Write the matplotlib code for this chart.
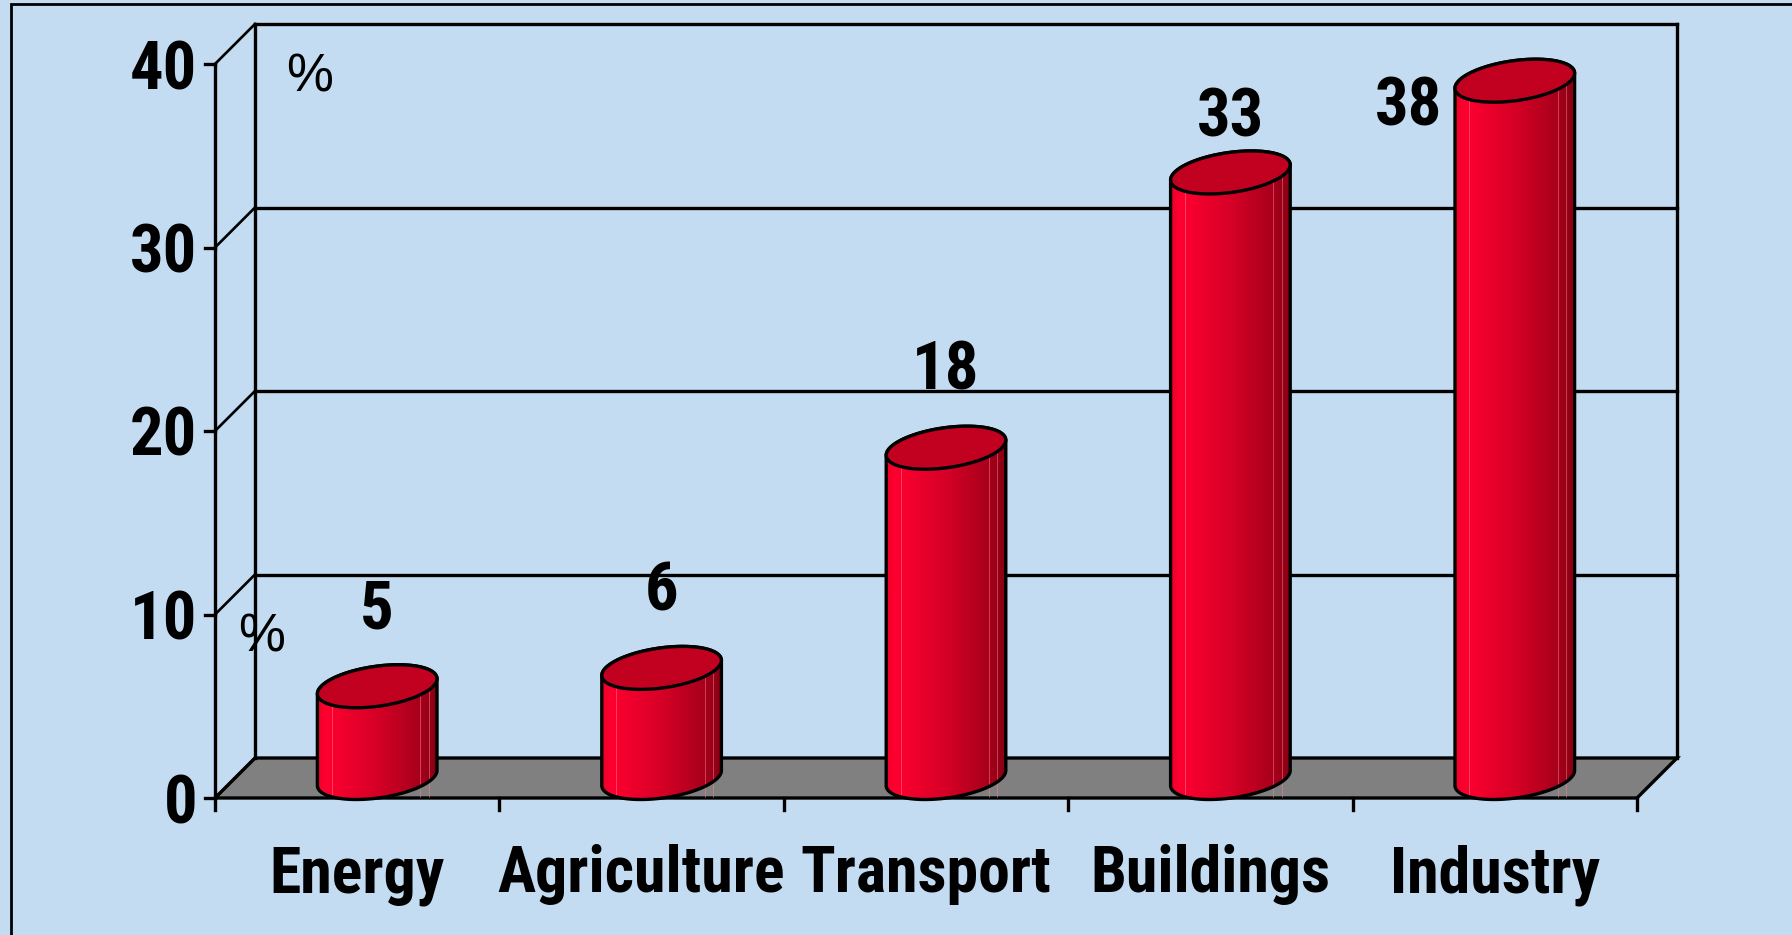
import numpy as np
import matplotlib
matplotlib.use("Agg")
import matplotlib.pyplot as plt
from matplotlib import font_manager
from matplotlib.patches import Polygon, Rectangle
from matplotlib.colors import LinearSegmentedColormap


categories = ["Energy", "Agriculture", "Transport", "Buildings", "Industry"]
shares = [5, 6, 18, 33, 38]
y_ticks = [0, 10, 20, 30, 40]

W, H = 1792, 935
BG = "#C4DCF1"
FLOOR = "#808080"
TOP_RED = "#C20020"

# pixels per data unit (front plane)
PX_X = 1422 / 5
PX_Y = 734 / 40
DDX = 40 / PX_X      # depth offset of the back wall
DDY = 40 / PX_Y


def pick_font(names, fallback):
    for name in names:
        try:
            font_manager.findfont(font_manager.FontProperties(family=name, weight="bold"),
                                  fallback_to_default=False)
            return name
        except Exception:
            pass
    return fallback


narrow = pick_font(["Liberation Sans Narrow", "Arial Narrow", "Roboto Condensed",
                    "Archivo Narrow", "Open Sans Condensed", "IBM Plex Sans Condensed"], "DejaVu Sans")
regular = pick_font(["Liberation Sans", "Arial"], "DejaVu Sans")

fig = plt.figure(figsize=(W / 100, H / 100), dpi=100, facecolor=BG)
ax = fig.add_axes([215 / W, (H - 798) / H, 1422 / W, 734 / H])
ax.set_facecolor(BG)
ax.axis("off")

# outer frame (only top and left edges are inside the picture)
fig.add_artist(Rectangle((11 / W, -0.1), 1.2, (H - 4) / H + 0.1, transform=fig.transFigure,
                         fill=False, edgecolor="black", lw=2))

lw = 2.4
n = len(categories)
big = dict(fontsize=48, fontweight="bold", family=narrow, zorder=5)
cat_font = dict(big, fontsize=46)

# floor
floor = Polygon([(0, 0), (n, 0), (n + DDX, DDY), (DDX, DDY)], closed=True,
                facecolor=FLOOR, edgecolor="black", lw=lw, zorder=1, clip_on=False)
ax.add_patch(floor)

# back wall gridlines and side wall diagonals
for v in y_ticks:
    if v > 0:
        ax.plot([DDX, n + DDX], [v + DDY, v + DDY], color="black", lw=lw, zorder=1, clip_on=False)
    ax.plot([0, DDX], [v, v + DDY], color="black", lw=lw * 0.8, zorder=1, clip_on=False)
    ax.plot([-10 / PX_X, 0], [v, v], color="black", lw=lw, zorder=1, clip_on=False)
    ax.text(-18 / PX_X, v, str(v), ha="right", va="center_baseline", **big)
ax.plot([DDX, DDX], [DDY, y_ticks[-1] + DDY], color="black", lw=lw, zorder=1, clip_on=False)
ax.plot([n + DDX, n + DDX], [DDY, y_ticks[-1] + DDY], color="black", lw=lw, zorder=1, clip_on=False)
ax.plot([0, 0], [0, y_ticks[-1]], color="black", lw=lw, zorder=1, clip_on=False)

# category ticks
for i in range(n + 1):
    ax.plot([i, i], [0, -12 / PX_Y], color="black", lw=lw, zorder=1, clip_on=False)

# cylinder gradient
body_cmap = LinearSegmentedColormap.from_list(
    "cyl", [(0, "#EE0029"), (0.08, "#FF0030"), (0.5, "#D60026"), (0.85, "#A8001C"), (1, "#880012")])
grad = np.linspace(0, 1, 256).reshape(1, -1)

a = 56.0 / PX_X
ex = 21 / PX_X
ey = 21.5 / PX_Y
t_r = np.arctan2(ex, a)
t_l = np.pi + t_r


def ell(cx, cy, t):
    return cx + a * np.cos(t) + ex * np.sin(t), cy + ey * np.sin(t)


for i, v in enumerate(shares):
    cx = i + 0.5 + DDX / 2
    cb = DDY / 2
    ct = v + DDY / 2
    tb = np.linspace(t_l, 2 * np.pi + t_r, 80)
    tt = np.linspace(t_r, t_l, 80)
    xb, yb = ell(cx, cb, tb)
    xt, yt = ell(cx, ct, tt)
    pts = np.column_stack([np.concatenate([xb, xt]), np.concatenate([yb, yt])])
    body = Polygon(pts, closed=True, facecolor="none", edgecolor="black", lw=lw, zorder=3, clip_on=False)
    ax.add_patch(body)
    half = np.sqrt(a ** 2 + ex ** 2)
    im = ax.imshow(grad, cmap=body_cmap, aspect="auto", zorder=2,
                   extent=[cx - half, cx + half, cb - 2 * ey, ct + 2 * ey])
    im.set_clip_path(body)
    for f in (0.12, 0.86, 0.93):
        xf = cx - half + 2 * half * f
        ax.plot([xf, xf], [cb - ey * 0.9, ct], color="#FF8090", lw=0.7, alpha=0.5, zorder=2)

    ta = np.linspace(0, 2 * np.pi, 160)
    xe, ye = ell(cx, ct, ta)
    top = Polygon(np.column_stack([xe, ye]), closed=True, facecolor=TOP_RED,
                  edgecolor="black", lw=lw, zorder=4, clip_on=False)
    ax.add_patch(top)

    # value label
    if i == n - 1:
        ax.text(cx - half - 13 / PX_X, v, str(v), ha="right", va="center_baseline", **big)
    else:
        ax.text(cx, min(v + 5.6, 37.4), str(v), ha="center", va="center_baseline", **big)

    ax.text(i + 0.5, -94 / PX_Y, categories[i], ha="center", va="baseline", **cat_font)

ax.text(0.334, 39.56, "%", ha="center", va="center_baseline", fontsize=38, family=regular, zorder=5)
ax.text(0.165, 9.05, "%", ha="center", va="center_baseline", fontsize=38, family=regular, zorder=5)

ax.set_xlim(0, n)
ax.set_ylim(0, y_ticks[-1])

fig.savefig("out.png", dpi=100, facecolor=BG)
